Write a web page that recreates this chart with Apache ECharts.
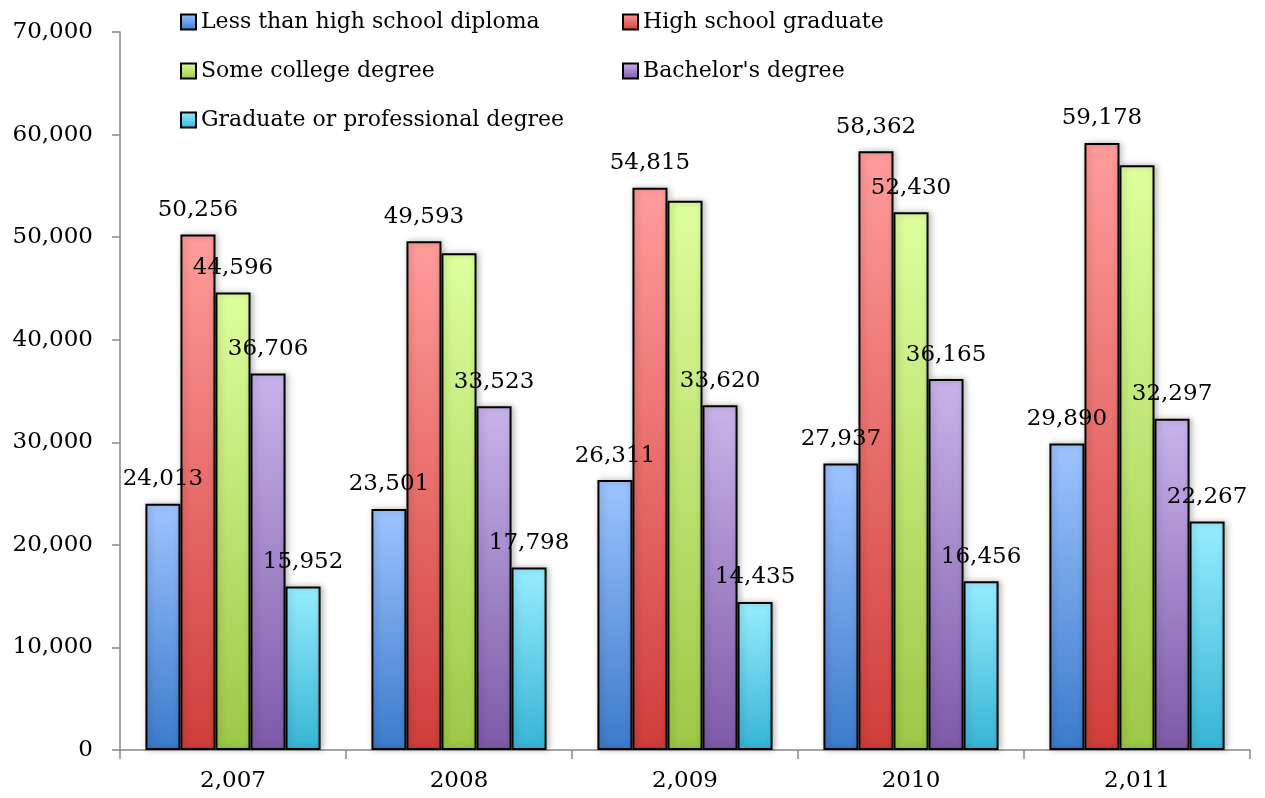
<!DOCTYPE html>
<html>
<head>
<meta charset="utf-8">
<script src="https://cdn.jsdelivr.net/npm/echarts@6/dist/echarts.min.js"></script>
<style>html,body{margin:0;padding:0;background:#fff;}#chart{width:1265px;height:798px;}</style>
</head>
<body>
<div id="chart"></div>
<script>
const categories = ['2,007', '2008', '2,009', '2010', '2,011'];
const seriesNames = ['Less than high school diploma', 'High school graduate', 'Some college degree', "Bachelor's degree", 'Graduate or professional degree'];
const lessThanHS = [24013, 23501, 26311, 27937, 29890];
const hsGraduate = [50256, 49593, 54815, 58362, 59178];
const someCollege = [44596, 48440, 53540, 52430, 57020];
const bachelors = [36706, 33523, 33620, 36165, 32297];
const graduate = [15952, 17798, 14435, 16456, 22267];
// labels not shown in the original (per series, per category index)
const hiddenLabels = [[], [], [1, 2, 4], [], []];
const yTicks = { min: 0, max: 70000, interval: 10000 };

const colorTop = ['#9dc4ff', '#ff9c9a', '#ddff9d', '#c9b3eb', '#97edff'];
const colorBottom = ['#3b7acb', '#cf3d3a', '#9dc746', '#7d59a8', '#36b4d5'];
const FONT = 'DejaVu Serif';

const values = [lessThanHS, hsGraduate, someCollege, bachelors, graduate];
const fmt = v => v.toLocaleString('en-US');

const series = seriesNames.map((name, i) => ({
  name: name,
  type: 'bar',
  barGap: '0%',
  barCategoryGap: '22.5%',
  data: values[i].map((v, j) => hiddenLabels[i].includes(j) ? { value: v, label: { show: false } } : v),
  itemStyle: {
    color: new echarts.graphic.LinearGradient(0, 0, 0, 1, [
      { offset: 0, color: colorTop[i] },
      { offset: 1, color: colorBottom[i] }
    ]),
    borderColor: '#000',
    borderWidth: 2,
    shadowBlur: 6,
    shadowColor: 'rgba(0,0,0,0.25)',
    shadowOffsetX: 2
  },
  label: {
    show: true,
    position: 'top',
    distance: 13,
    color: '#000',
    fontFamily: FONT,
    fontSize: 23,
    formatter: p => fmt(p.value)
  },
  emphasis: { disabled: true }
}));

const chart = echarts.init(document.getElementById('chart'), null, { renderer: 'canvas' });
chart.setOption({
  animation: false,
  backgroundColor: '#fff',
  textStyle: { fontFamily: FONT },
  legend: [
    {
      data: [seriesNames[0], seriesNames[2], seriesNames[4]],
      orient: 'vertical',
      left: 175, top: 6,
      itemWidth: 15, itemHeight: 15, itemGap: 27,
      icon: 'rect',
      textStyle: { fontFamily: FONT, fontSize: 22, color: '#000' }
    },
    {
      data: [seriesNames[1], seriesNames[3]],
      orient: 'vertical',
      left: 617, top: 6,
      itemWidth: 15, itemHeight: 15, itemGap: 27,
      icon: 'rect',
      textStyle: { fontFamily: FONT, fontSize: 22, color: '#000' }
    }
  ],
  grid: { left: 120, right: 15, top: 32, bottom: 48, containLabel: false },
  xAxis: {
    type: 'category',
    data: categories,
    axisLine: { lineStyle: { color: '#888', width: 1.5 } },
    axisTick: { show: true, length: 9, lineStyle: { color: '#888', width: 1.5 } },
    axisLabel: { color: '#000', fontFamily: FONT, fontSize: 23, margin: 20 }
  },
  yAxis: {
    type: 'value',
    min: yTicks.min, max: yTicks.max, interval: yTicks.interval,
    axisLine: { show: true, lineStyle: { color: '#888', width: 1.5 } },
    axisTick: { show: true, length: 8, lineStyle: { color: '#888', width: 1.5 } },
    splitLine: { show: false },
    axisLabel: { color: '#000', fontFamily: FONT, fontSize: 23, margin: 27, formatter: v => fmt(v) }
  },
  series: series
});
</script>
</body>
</html>
